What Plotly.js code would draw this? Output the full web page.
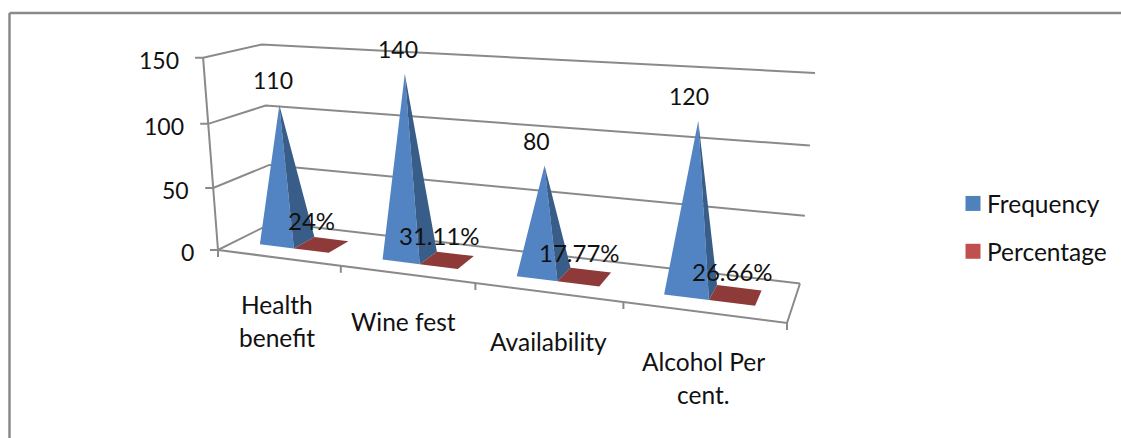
<!DOCTYPE html>
<html>
<head>
<meta charset="utf-8">
<script src="https://cdn.plot.ly/plotly-3.0.1.min.js"></script>
<style>html,body{margin:0;padding:0;background:#fff}#chart{width:1121px;height:438px}</style>
</head>
<body>
<div id="chart"></div>
<script>
// Chart data
const categories = ["Health<br>benefit", "Wine fest", "Availability", "Alcohol Per<br>cent."];
const frequency = [110, 140, 80, 120];
const percentage = [0.24, 0.3111, 0.1777, 0.2666];
const valueTicks = [0, 50, 100, 150];

// Oblique box the chart is projected into: floor corners are [x, y] in page pixels
const FLOOR = {fl: [218, 250], fr: [787, 323], br: [800, 283.5], bl: [273, 222.5]};
const TOP_LEFT_Y = 57.7;              // height of the value-axis top on the page
const VERTICAL_VANISH = [522, 4170];  // point where the box's upright edges converge
const MAX_VALUE = 150;
const N = categories.length;

// Perspective camera: floor homography plus a vertical column
const camera = (() => {
  const [x0, y0] = FLOOR.fl, [x1, y1] = FLOOR.fr, [x2, y2] = FLOOR.br, [x3, y3] = FLOOR.bl;
  const dx1 = x1 - x2, dx2 = x3 - x2, sx = x0 - x1 + x2 - x3;
  const dy1 = y1 - y2, dy2 = y3 - y2, sy = y0 - y1 + y2 - y3;
  const d = dx1 * dy2 - dx2 * dy1;
  const g = (sx * dy2 - dx2 * sy) / d, h = (dx1 * sy - sx * dy1) / d;
  const a = x1 - x0 + g * x1, b = x3 - x0 + h * x3;
  const c = y1 - y0 + g * y1, e = y3 - y0 + h * y3;
  const k = (TOP_LEFT_Y - y0) / (VERTICAL_VANISH[1] - TOP_LEFT_Y);
  return {a, b, c, e, g, h, k, x0, y0};
})();

// category position (0..N), depth (0..1), value -> page pixel
function project(cat, depth, value) {
  const {a, b, c, e, g, h, k, x0, y0} = camera;
  const u = cat / N, t = value / MAX_VALUE;
  const w = g * u + h * depth + 1 + k * t;
  return [
    (a * u + b * depth + x0 + k * VERTICAL_VANISH[0] * t) / w,
    (c * u + e * depth + y0 + k * VERTICAL_VANISH[1] * t) / w
  ];
}

// Path builder: polylines separated by gaps
function path() {
  const xs = [], ys = [];
  return {
    xs, ys,
    add(points) { points.forEach(p => { xs.push(p[0]); ys.push(p[1]); }); xs.push(null); ys.push(null); }
  };
}

// Pyramid layout inside each category slot
const BAR_START = 0.21, BAR_W = 0.286, DEPTH_A = 0.3, DEPTH_B = 0.7;

function pyramid(cat, seriesIdx, value) {
  const u0 = cat + BAR_START + seriesIdx * BAR_W, u1 = u0 + BAR_W;
  return {
    fl: project(u0, DEPTH_A, 0), fr: project(u1, DEPTH_A, 0),
    br: project(u1, DEPTH_B, 0), bl: project(u0, DEPTH_B, 0),
    apex: project((u0 + u1) / 2, (DEPTH_A + DEPTH_B) / 2, value)
  };
}

const frontFaces = path(), sideFaces = path(), flatFaces = path();
frequency.forEach((v, i) => {
  const p = pyramid(i, 0, v);
  frontFaces.add([p.fl, p.fr, p.apex, p.fl]);
  sideFaces.add([p.fr, p.br, p.apex, p.fr]);
});
percentage.forEach((v, i) => {
  const p = pyramid(i, 1, v);
  flatFaces.add([p.fl, p.fr, p.br, p.bl, p.fl]);
});

// Walls, floor and tick marks
const frame = path();
valueTicks.forEach(t => {
  const a = project(0, 0, t), b = project(0, 1, t), c = project(N, 1, t);
  frame.add([[a[0] - 8, a[1]], a, b, c]);
});
frame.add([project(0, 0, 0), project(0, 0, MAX_VALUE)]);
frame.add([project(0, 0, 0), project(N, 0, 0), project(N, 1, 0)]);
for (let i = 0; i <= N; i++) {
  const a = project(i, 0, 0);
  frame.add([a, [a[0], a[1] + 7]]);
}

const fillTrace = (pathData, color, name) => ({
  type: "scatter", mode: "lines", x: pathData.xs, y: pathData.ys, name,
  fill: "toself", fillcolor: color, line: {width: 0, color}, showlegend: false, hoverinfo: "skip"
});
const legendTrace = (name, color) => ({
  type: "scatter", mode: "markers", x: [null], y: [null], name, legendgroup: name,
  marker: {symbol: "square", size: 15, color}
});

const traces = [
  {type: "scatter", mode: "lines", x: frame.xs, y: frame.ys, line: {color: "#8a8a8a", width: 2},
   showlegend: false, hoverinfo: "skip"},
  fillTrace(frontFaces, "#5284C3", "Frequency front"),
  fillTrace(sideFaces, "#375D88", "Frequency side"),
  fillTrace(flatFaces, "#8E3A38", "Percentage base"),
  legendTrace("Frequency", "#4F81BD"),
  legendTrace("Percentage", "#C0504D")
];

const FONT_FAMILY = "Lato, Carlito, sans-serif";
const TEXT_FONT = {family: FONT_FAMILY, size: 24.5, color: "#111"};
const NUMBER_FONT = {family: FONT_FAMILY, size: 23, color: "#111"};
const PERCENT_FONT = {family: FONT_FAMILY, size: 24, color: "#111"};
const note = (x, y, text, font, xanchor) => ({
  x, y, text, xref: "x", yref: "y", showarrow: false, xanchor: xanchor || "center", yanchor: "middle", font
});

const annotations = [];
// Value axis labels
valueTicks.forEach(t => {
  const a = project(0, 0, t);
  annotations.push(note(a[0] - 22, a[1] + 2, String(t), NUMBER_FONT, "right"));
});
// Category labels, one annotation per line for tight control of the line gap
const catCenters = [[277, 304], [403, 321], [548, 341], [703, 361]];
categories.forEach((c, i) => {
  c.split("<br>").forEach((line, k) => {
    annotations.push(note(catCenters[i][0], catCenters[i][1] + k * 33, line, TEXT_FONT));
  });
});
// Value labels sit relative to each pyramid's apex or base
const freqShift = [-6, -7, -8, -9];
frequency.forEach((v, i) => {
  const a = pyramid(i, 0, v).apex;
  annotations.push(note(a[0] + freqShift[i], a[1] - 25, String(v), NUMBER_FONT));
});
const pctShift = [[-9.5, -24], [-8, -24], [-5, -24], [-3, -23]];
percentage.forEach((v, i) => {
  const a = pyramid(i, 1, v).apex;
  annotations.push(note(a[0] + pctShift[i][0], a[1] + pctShift[i][1], parseFloat((v * 100).toFixed(2)) + "%", PERCENT_FONT));
});

const line = (x0, y0, x1, y1) => ({
  type: "line", xref: "paper", yref: "paper", x0, y0, x1, y1, line: {color: "#8a8a8a", width: 2.5}
});

const layout = {
  width: 1121, height: 438, margin: {l: 0, r: 0, t: 0, b: 0},
  paper_bgcolor: "#fff", plot_bgcolor: "#fff", font: TEXT_FONT,
  xaxis: {range: [0, 1121], visible: false, fixedrange: true},
  yaxis: {range: [438, 0], visible: false, fixedrange: true},
  showlegend: true,
  legend: {x: 947 / 1121, y: 1 - 181 / 438, xanchor: "left", yanchor: "top", font: TEXT_FONT,
           tracegroupgap: 13, bgcolor: "rgba(0,0,0,0)"},
  annotations,
  shapes: [line(9.5 / 1121, 1 - 13 / 438, 1, 1 - 13 / 438), line(9.5 / 1121, 1 - 13 / 438, 9.5 / 1121, 0)]
};

Plotly.newPlot("chart", traces, layout, {displayModeBar: false, staticPlot: true}).then(gd => {
  // Legend swatches sit close to their labels
  gd.querySelectorAll(".legend .legendsymbols").forEach(el => el.setAttribute("transform", "translate(6,0)"));
});
</script>
</body>
</html>
